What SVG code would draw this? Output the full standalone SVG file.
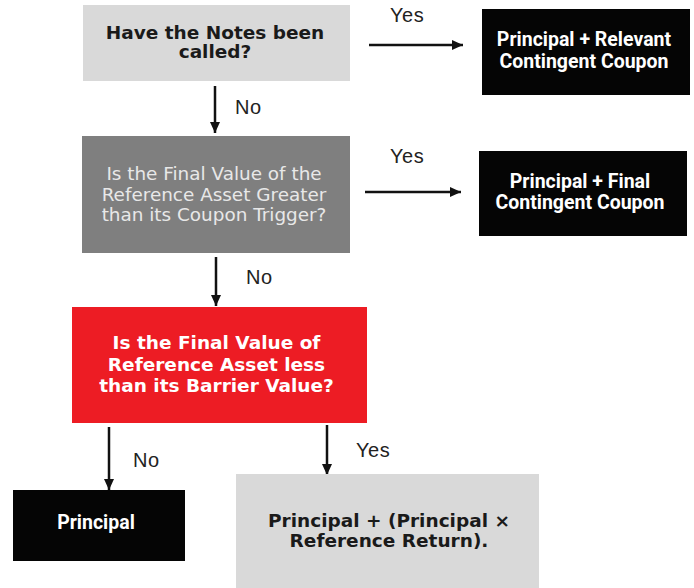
<svg xmlns="http://www.w3.org/2000/svg" width="694" height="588" viewBox="0 0 694 588">
<style>
.q{font-family:"DejaVu Sans",Verdana,sans-serif;font-weight:bold;font-size:18.5px;text-anchor:middle}
.qr{font-family:"DejaVu Sans",Verdana,sans-serif;font-size:18.4px;text-anchor:middle;fill:#e8e8e8}
.o{font-family:Roboto,"Liberation Sans",Arial,sans-serif;font-weight:bold;font-size:19.5px;text-anchor:middle;fill:#ffffff}
.lb{font-family:"Liberation Sans",Arial,sans-serif;font-size:20px;letter-spacing:0.6px;fill:#222222}
.c{stroke:#111111;stroke-width:2.5;fill:none;marker-end:url(#ah)}
</style>
<defs>
<marker id="ah" markerUnits="userSpaceOnUse" markerWidth="12" markerHeight="12" viewBox="0 0 12 12" refX="11" refY="6" orient="auto">
<path d="M0,1 L11,6 L0,11 Z" fill="#111111"/>
</marker>
</defs>
<rect width="694" height="588" fill="#ffffff"/>
<g id="connectors">
<line class="c" x1="369" y1="45" x2="463" y2="45"/>
<line class="c" x1="215" y1="86" x2="215" y2="133"/>
<line class="c" x1="365" y1="192" x2="461" y2="192"/>
<line class="c" x1="216" y1="257" x2="216" y2="306"/>
<line class="c" x1="109" y1="427" x2="109" y2="490"/>
<line class="c" x1="327" y1="425" x2="327" y2="475"/>
<text class="lb" x="390" y="22">Yes</text>
<text class="lb" x="235" y="114">No</text>
<text class="lb" x="390" y="163">Yes</text>
<text class="lb" x="246" y="284">No</text>
<text class="lb" x="133" y="467">No</text>
<text class="lb" x="356" y="457">Yes</text>
</g>
<g id="called">
<rect x="83" y="5" width="267" height="76" fill="#d9d9d9"/>
<text class="q" fill="#1a1a1a"><tspan x="215" y="39">Have the Notes been</tspan><tspan x="215" y="58">called?</tspan></text>
</g>
<g id="relevant">
<rect x="482" y="9" width="208" height="86" fill="#050505"/>
<text class="o"><tspan x="584" y="46">Principal + Relevant</tspan><tspan x="584" y="68">Contingent Coupon</tspan></text>
</g>
<g id="trigger">
<rect x="82" y="136" width="268" height="117" fill="#7f7f7f"/>
<text class="qr"><tspan x="214" y="180">Is the Final Value of the</tspan><tspan x="214" y="200.5">Reference Asset Greater</tspan><tspan x="214" y="221">than its Coupon Trigger?</tspan></text>
</g>
<g id="final">
<rect x="479" y="151" width="208" height="85" fill="#050505"/>
<text class="o"><tspan x="580" y="188">Principal + Final</tspan><tspan x="580" y="209">Contingent Coupon</tspan></text>
</g>
<g id="barrier">
<rect x="72" y="307" width="295" height="116" fill="#ed1c24"/>
<text class="q" fill="#ffffff"><tspan x="216.5" y="349">Is the Final Value of</tspan><tspan x="216.5" y="370.5">Reference Asset less</tspan><tspan x="216.5" y="391.5">than its Barrier Value?</tspan></text>
</g>
<g id="principal">
<rect x="13" y="490" width="172" height="71" fill="#050505"/>
<text class="o" x="96" y="529">Principal</text>
</g>
<g id="return">
<rect x="236" y="474" width="303" height="114" fill="#d9d9d9"/>
<text class="q" fill="#1a1a1a"><tspan x="389" y="527">Principal + (Principal ×</tspan><tspan x="389" y="547">Reference Return).</tspan></text>
</g>
</svg>
